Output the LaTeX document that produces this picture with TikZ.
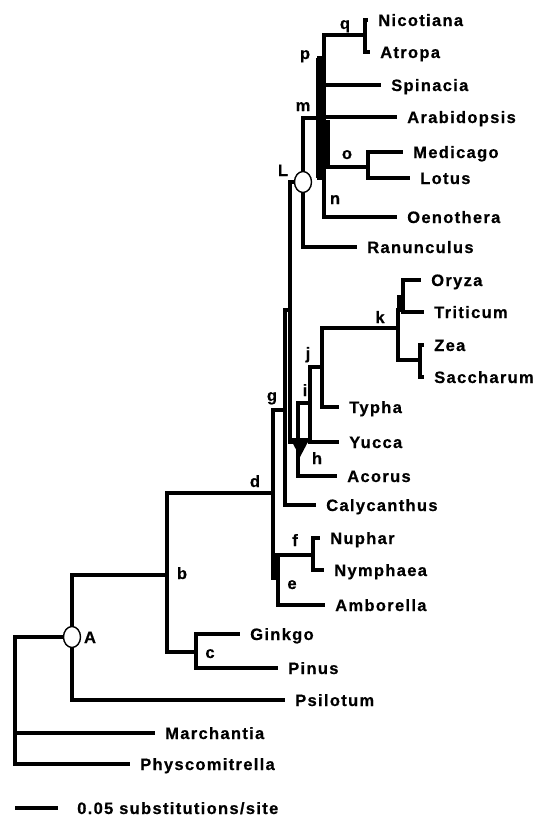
\documentclass[tikz,border=0pt]{standalone}
\usepackage{fontspec}
\setmainfont{Liberation Sans}
\newfontfamily\treefont{Liberation Sans Bold}[LetterSpace=8,FakeBold=0.6]
\usetikzlibrary{calc,shapes.geometric}

\begin{document}
\begin{tikzpicture}[x=1pt,y=-1pt,line width=4.5pt,
  every node/.style={font=\treefont\fontsize{16.5}{18}\selectfont,inner sep=0pt,text height=12pt,text depth=0pt},
  taxon/.style={anchor=west,xshift=8pt},
  knot/.style={ellipse,draw,fill=white,line width=1.4pt,minimum width=17pt,minimum height=21pt}]
  \useasboundingbox (0,0) rectangle (536,817);
  \coordinate (R) at (15,700); \coordinate (A) at (72,637); \coordinate (b) at (167,575); \coordinate (c) at (196,652);
  \coordinate (d) at (273,493); \coordinate (e) at (278,578); \coordinate (f) at (313,555); \coordinate (g) at (285,410);
  \coordinate (X) at (290,310); \coordinate (h) at (298,442); \coordinate (i) at (310,403); \coordinate (j) at (322,367);
  \coordinate (k) at (398,328); \coordinate (OT) at (403,310); \coordinate (ZS) at (420,360);
  \coordinate (L) at (303,182); \coordinate (m) at (319,118); \coordinate (p) at (324,58); \coordinate (n) at (324,178);
  \coordinate (q) at (365,35); \coordinate (o) at (368,167);
  \foreach \p/\x/\y in {Nicotiana/368/20,Atropa/370/52,Spinacia/381/85,Arabidopsis/397/117,Medicago/403/152,Lotus/410/178,
    Oenothera/397/217,Ranunculus/357/247,Oryza/421/280,Triticum/424/312,Zea/424/345,Saccharum/424/377,Typha/339/407,
    Yucca/339/442,Acorus/337/476,Calycanthus/316/505,Nuphar/320/538,Nymphaea/324/570,Amborella/325/605,
    Ginkgo/240/634,Pinus/278/668,Psilotum/285/700,Marchantia/155/733,Physcomitrella/130/764}
    \coordinate (\p) at (\x,\y);
  % branches
  \foreach \pa/\ch in {R/A,R/Marchantia,R/Physcomitrella,A/b,A/Psilotum,b/d,b/c,c/Ginkgo,c/Pinus,
    d/g,d/e,e/f,e/Amborella,f/Nuphar,f/Nymphaea,g/X,g/Calycanthus,X/L,X/h,h/i,h/Acorus,i/j,i/Yucca,
    j/k,j/Typha,k/OT,k/ZS,OT/Oryza,OT/Triticum,ZS/Zea,ZS/Saccharum,L/m,L/Ranunculus,m/p,m/n,
    p/q,p/Spinacia,q/Nicotiana,q/Atropa,n/Arabidopsis,n/o,n/Oenothera,o/Medicago,o/Lotus}
    \draw (\pa) |- (\ch);
  % short internal branches
  \fill (316,58) rectangle (326,178);
  \fill (326,120) rectangle (330,167);
  \fill (271,553) rectangle (280,580);
  \fill (397,295) rectangle (405,312);
  \fill ($(h)+(-8,-4)$) -- ($(h)+(12,-4)$) -- ($(h)+(2,15)$) -- cycle;
  \node[knot] (A-knot) at (A) {};
  \node[knot] (L-knot) at (L) {};
  \foreach \p in {Nicotiana,Atropa,Spinacia,Arabidopsis,Medicago,Lotus,Oenothera,Ranunculus,Oryza,Triticum,Zea,
    Saccharum,Typha,Yucca,Acorus,Calycanthus,Nuphar,Nymphaea,Amborella,Ginkgo,Pinus,Psilotum,Marchantia,Physcomitrella}
    \node[taxon] (\p-name) at (\p) {\p};
  \foreach \tg/\x/\y in {q/345/23,p/305/53,m/303/105,L/283/170,o/347/153,n/335/198,k/380/317,j/308/353,i/305/390,
    g/272/395,h/317/458,d/255/481,f/295/540,e/292/583,b/182/573,c/210/652,A/90/637}
    \node (tag-\tg) at (\x,\y) {\tg};
  % scale bar
  \coordinate (s0) at (15,808); \coordinate (s1) at (58,808);
  \draw (s0) -- (s1);
  \node[taxon,xshift=9pt] (scale) at (s1) {0.05 substitutions/site};
\end{tikzpicture}
\end{document}
